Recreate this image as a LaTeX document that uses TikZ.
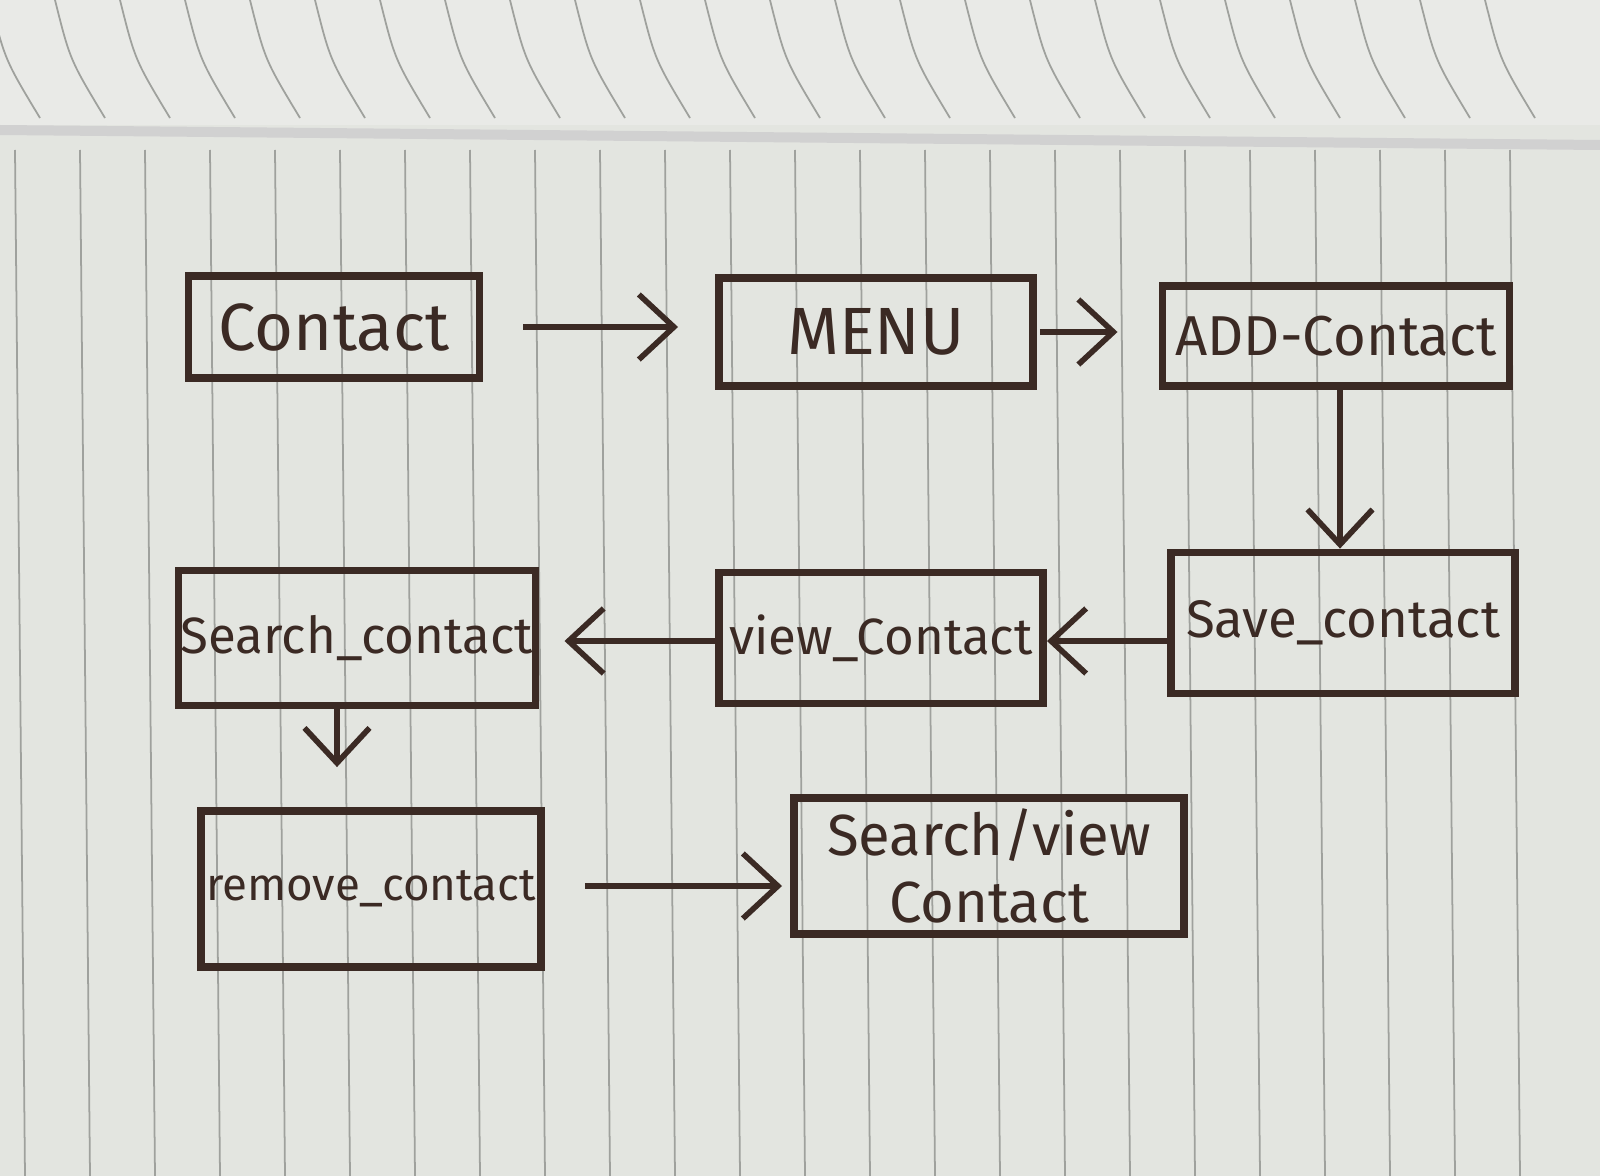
\documentclass[tikz,border=0pt]{standalone}
\usepackage{fontspec}
\setmainfont{Fira Sans}
\usetikzlibrary{arrows.meta}
\definecolor{ink}{HTML}{3B2A24}
\definecolor{paper}{HTML}{E3E5E0}
\definecolor{toppaper}{HTML}{E9EAE7}
\definecolor{rule}{HTML}{9FA19D}
\tikzset{
  box/.style={draw=ink, line width=2.2pt, text=ink, font=\fontsize{19}{24}\selectfont,
    inner sep=0pt, align=center},
  flow/.style={draw=ink, line width=1.8pt, -{Straight Barb[length=3.5mm,width=6.5mm,line width=1.6pt]}},
}
\begin{document}
\begin{tikzpicture}[x=0.01cm,y=-0.01cm]
\useasboundingbox (0,0) rectangle (1600,1176);
% paper background
\fill[paper] (0,0) rectangle (1600,1176);
\fill[toppaper] (0,0) rectangle (1600,125);
\fill[black!18] (0,125) -- (1600,140) -- (1600,150) -- (0,135) -- cycle;
\foreach \i in {0,...,23} {
  \draw[rule, line width=0.5pt] ({15+65*\i},150) -- ({25+65*\i},1176);
  \draw[rule, line width=0.5pt] ({-10+65*\i},0) .. controls ({5+65*\i},60) .. ({40+65*\i},118);
}
% nodes
\node[box, minimum width=2.91cm, minimum height=1.02cm] (contact) at (334,327) {Contact};
\node[box, minimum width=3.14cm, minimum height=1.08cm] (menu) at (876,332) {MENU};
\node[box, font=\fontsize{16}{20}\selectfont, minimum width=3.47cm, minimum height=1.00cm] (add) at (1336,336) {ADD-Contact};
\node[box, font=\fontsize{15}{19}\selectfont, minimum width=3.44cm, minimum height=1.41cm] (save) at (1343,623) {Save\_contact};
\node[box, font=\fontsize{14.5}{18}\selectfont, minimum width=3.24cm, minimum height=1.31cm] (view) at (881,638) {view\_Contact};
\node[box, font=\fontsize{14.5}{18}\selectfont, minimum width=3.57cm, minimum height=1.35cm] (search) at (357,638) {Search\_contact};
\node[box, font=\fontsize{13}{16}\selectfont, minimum width=3.40cm, minimum height=1.56cm] (remove) at (371,889) {remove\_contact};
\node[box, font=\fontsize{16.5}{19}\selectfont, minimum width=3.90cm, minimum height=1.36cm] (sv) at (989,866) {Search/view\\Contact};
% connectors
\draw[flow, shorten <=0.40cm, shorten >=0.37cm] (contact.east) -- (contact.east -| menu.west);
\draw[flow, shorten <=0.03cm, shorten >=0.41cm] (menu.east) -- (menu.east -| add.west);
\draw[flow] (add.south -| 1340,0) -- (save.north -| 1340,0);
\draw[flow] (save.west |- 0,641) -- (view.east |- 0,641);
\draw[flow, shorten >=0.25cm] (view.west |- 0,641) -- (search.east |- 0,641);
\draw[flow, shorten >=0.40cm] (search.south -| 337,0) -- (remove.north -| 337,0);
\draw[flow, shorten <=0.40cm, shorten >=0.08cm] (remove.east |- 0,886) -- (sv.west |- 0,886);
\end{tikzpicture}
\end{document}
